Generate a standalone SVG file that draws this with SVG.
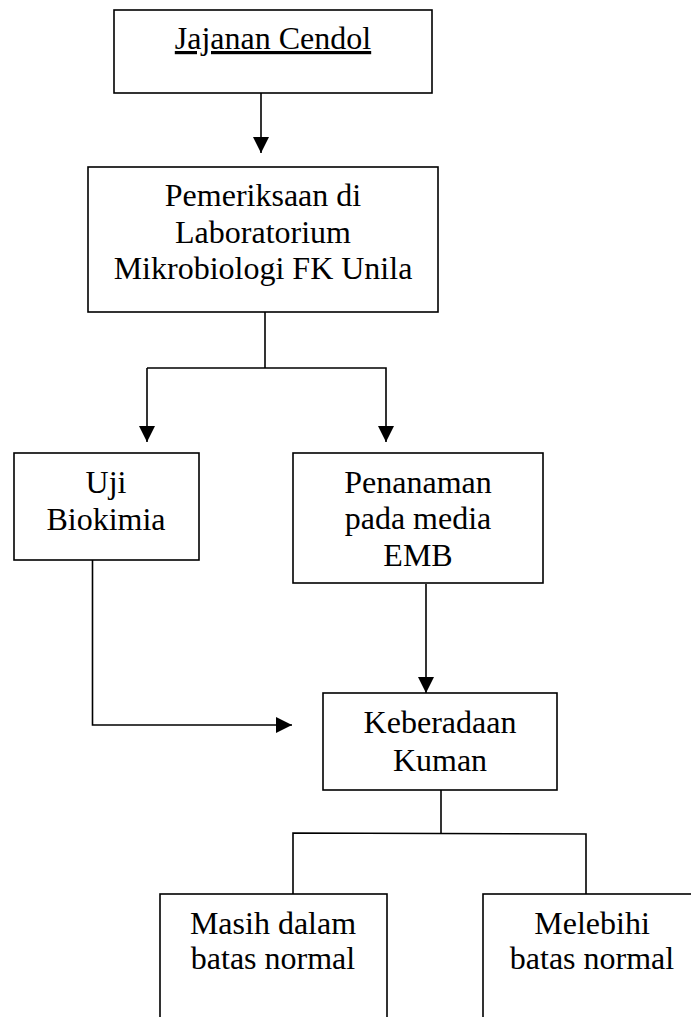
<svg xmlns="http://www.w3.org/2000/svg" width="691" height="1017" viewBox="0 0 691 1017">
<defs>
<style>
.box{fill:#fff;stroke:#000;stroke-width:1.6}
.ln{fill:none;stroke:#000;stroke-width:1.6}
.arr{marker-end:url(#ah)}
text{font-family:"Liberation Serif","Times New Roman",serif;font-size:32px;fill:#000;text-anchor:middle}
</style>
<marker id="ah" markerUnits="userSpaceOnUse" markerWidth="16" markerHeight="16" refX="16" refY="8" orient="auto" viewBox="0 0 16 16">
<path d="M0,0 L16,8 L0,16 Z" fill="#000"/>
</marker>
</defs>
<rect width="691" height="1017" fill="#fff"/>
<g id="connectors">
<line class="ln arr" x1="261" y1="93" x2="261" y2="153"/>
<polyline class="ln" points="265,312 265,368"/>
<polyline class="ln arr" points="147,368 147,442"/>
<polyline class="ln arr" points="147,368 386,368 386,442"/>
<polyline class="ln arr" points="92.5,560 92.5,725 292,725"/>
<line class="ln arr" x1="426" y1="584" x2="426" y2="693"/>
<line class="ln" x1="441" y1="790" x2="441" y2="833"/>
<polyline class="ln" points="293,894 293,833 586,834 586,894"/>
</g>
<g id="n1">
<rect class="box" x="114" y="10" width="318" height="83"/>
<text x="273" y="49" text-decoration="underline">Jajanan Cendol</text>
</g>
<g id="n2">
<rect class="box" x="88" y="167" width="350" height="145"/>
<text x="263" y="206">Pemeriksaan di</text>
<text x="263" y="243">Laboratorium</text>
<text x="263" y="279">Mikrobiologi FK Unila</text>
</g>
<g id="n3">
<rect class="box" x="14" y="453" width="185" height="107"/>
<text x="106" y="493">Uji</text>
<text x="106" y="530">Biokimia</text>
</g>
<g id="n4">
<rect class="box" x="293" y="453" width="250" height="130"/>
<text x="418" y="493">Penanaman</text>
<text x="418" y="529">pada media</text>
<text x="418" y="566">EMB</text>
</g>
<g id="n5">
<rect class="box" x="323" y="693" width="234" height="97"/>
<text x="440" y="733">Keberadaan</text>
<text x="440" y="771">Kuman</text>
</g>
<g id="n6">
<rect class="box" x="160" y="894" width="227" height="140"/>
<text x="273" y="934">Masih dalam</text>
<text x="273" y="969">batas normal</text>
</g>
<g id="n7">
<rect class="box" x="483" y="894" width="220" height="140"/>
<text x="592" y="934">Melebihi</text>
<text x="592" y="969">batas normal</text>
</g>
</svg>
